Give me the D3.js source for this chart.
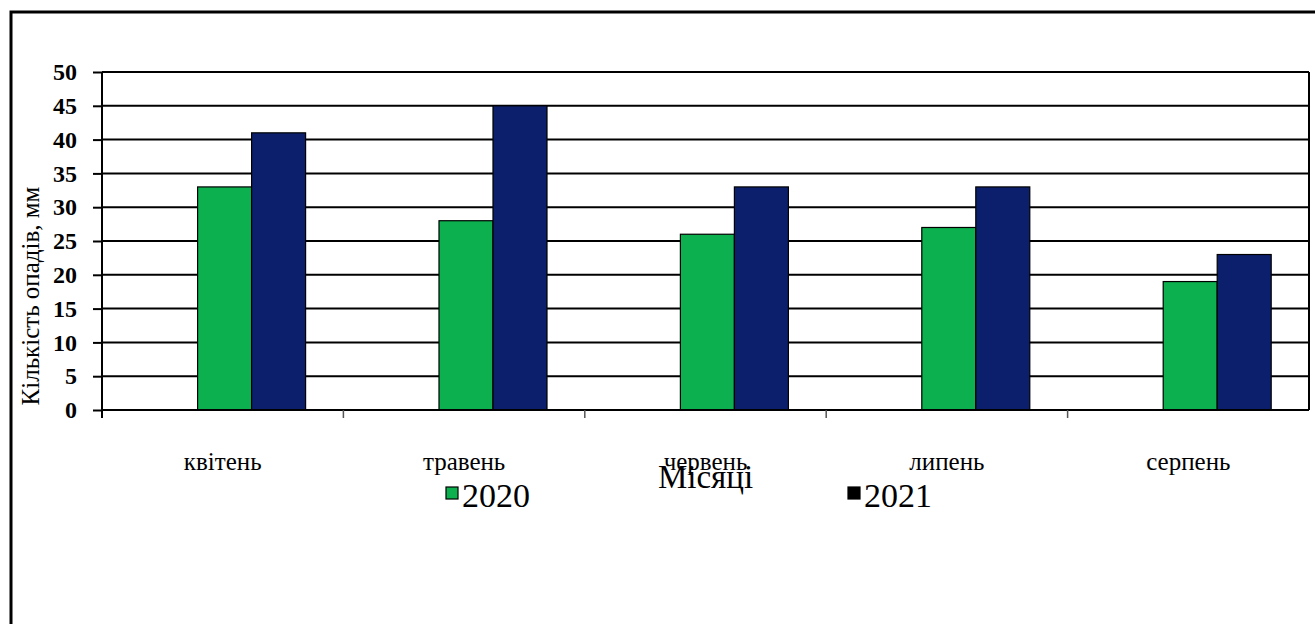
<!DOCTYPE html>
<html>
<head>
<meta charset="utf-8">
<script src="https://cdn.jsdelivr.net/npm/d3@7"></script>
</head>
<body style="margin:0">
<div id="chart"></div>
<script>
// data
var months = ["квітень", "травень", "червень", "липень", "серпень"];
var series = ["2020", "2021"];
var values2020 = [33, 28, 26, 27, 19];
var values2021 = [41, 45, 33, 33, 23];
var yTicks = [0, 5, 10, 15, 20, 25, 30, 35, 40, 45, 50];

var svgWidth = 1315;
var svgHeight = 624;
var fontName = "Liberation Serif";

var margin = { top: 72, right: 6, bottom: 214, left: 102 };
var width = svgWidth - margin.left - margin.right;
var height = svgHeight - margin.top - margin.bottom;

var colors = { "2020": "#0cb04e", "2021": "#0c1f6c" };

var svg = d3.select("#chart")
  .append("svg")
  .attr("width", svgWidth)
  .attr("height", svgHeight)
  .attr("font-family", fontName);

// outer frame
svg.append("path")
  .attr("d", `M11,${svgHeight + 5} L11,12 L${svgWidth + 5},12`)
  .attr("fill", "none")
  .attr("stroke", "#000")
  .attr("stroke-width", 3);

var chartGroup = svg.append("g")
  .attr("transform", `translate(${margin.left}, ${margin.top})`);

var x0 = d3.scaleBand().domain(months).range([0, width]);
var bw = x0.bandwidth();

var x1 = d3.scaleBand().domain(series)
  .range([bw * 0.396, bw * 0.396 + 108]);

var y = d3.scaleLinear().domain([0, 50]).range([height, 0]);

// gridlines
chartGroup.append("g")
  .selectAll("line")
  .data(yTicks.filter(d => d > 0))
  .enter()
  .append("line")
  .attr("x1", 0)
  .attr("x2", width)
  .attr("y1", d => y(d))
  .attr("y2", d => y(d))
  .attr("stroke", "#000")
  .attr("stroke-width", 2);

// right border of plot
chartGroup.append("line")
  .attr("x1", width).attr("x2", width)
  .attr("y1", 0).attr("y2", height)
  .attr("stroke", "#000")
  .attr("stroke-width", 2);

// bars
var rows = months.map((m, i) => ({ month: m, vals: [
  { key: "2020", value: values2020[i] },
  { key: "2021", value: values2021[i] }
] }));

var groups = chartGroup.selectAll("g.month")
  .data(rows)
  .enter()
  .append("g")
  .attr("class", "month")
  .attr("transform", d => `translate(${x0(d.month)},0)`);

groups.selectAll("rect")
  .data(d => d.vals)
  .enter()
  .append("rect")
  .attr("x", d => x1(d.key))
  .attr("y", d => y(d.value))
  .attr("width", x1.bandwidth())
  .attr("height", d => height - y(d.value))
  .attr("fill", d => colors[d.key])
  .attr("stroke", "#000")
  .attr("stroke-width", 1.2);

// y axis
var leftAxis = d3.axisLeft(y).tickValues(yTicks).tickSize(9).tickPadding(16);
var yAxisG = chartGroup.append("g").call(leftAxis);
yAxisG.attr("font-family", fontName)
  .attr("font-size", 24)
  .attr("font-weight", "bold");
yAxisG.select(".domain").attr("stroke-width", 2).attr("d", `M0,0V${height + 8}`);
yAxisG.selectAll(".tick line").attr("stroke-width", 2);
yAxisG.selectAll(".tick text").attr("font-family", fontName);

// x axis baseline
chartGroup.append("line")
  .attr("x1", 0).attr("x2", width)
  .attr("y1", height).attr("y2", height)
  .attr("stroke", "#000")
  .attr("stroke-width", 2);

// category separators
chartGroup.append("g")
  .selectAll("line")
  .data(months.slice(1))
  .enter()
  .append("line")
  .attr("x1", d => x0(d))
  .attr("x2", d => x0(d))
  .attr("y1", height)
  .attr("y2", height + 8)
  .attr("stroke", "#555")
  .attr("stroke-width", 1.5);

// x labels
chartGroup.append("g")
  .selectAll("text")
  .data(months)
  .enter()
  .append("text")
  .attr("x", d => x0(d) + bw / 2)
  .attr("y", height + 60)
  .attr("text-anchor", "middle")
  .attr("font-family", fontName)
  .attr("font-size", 25)
  .text(d => d);

// x title
chartGroup.append("text")
  .attr("x", x0("червень") + bw / 2)
  .attr("y", height + 78)
  .attr("text-anchor", "middle")
  .attr("font-family", fontName)
  .attr("font-size", 33)
  .text("Місяці");

// y title
svg.append("text")
  .attr("transform", `translate(39, 296) rotate(-90)`)
  .attr("text-anchor", "middle")
  .attr("font-family", fontName)
  .attr("font-size", 25)
  .text("Кількість опадів, мм");

// legend
var legendItems = [
  { key: "2020", x: 446, fill: colors["2020"] },
  { key: "2021", x: 848, fill: "#000" }
];
var legend = svg.append("g").selectAll("g")
  .data(legendItems)
  .enter()
  .append("g")
  .attr("transform", d => `translate(${d.x}, 487)`);

legend.append("rect")
  .attr("width", 12)
  .attr("height", 12)
  .attr("fill", d => d.fill)
  .attr("stroke", "#000")
  .attr("stroke-width", 1.2);

legend.append("text")
  .attr("x", 16)
  .attr("y", 20)
  .attr("font-family", fontName)
  .attr("font-size", 34)
  .text(d => d.key);
</script>
</body>
</html>
